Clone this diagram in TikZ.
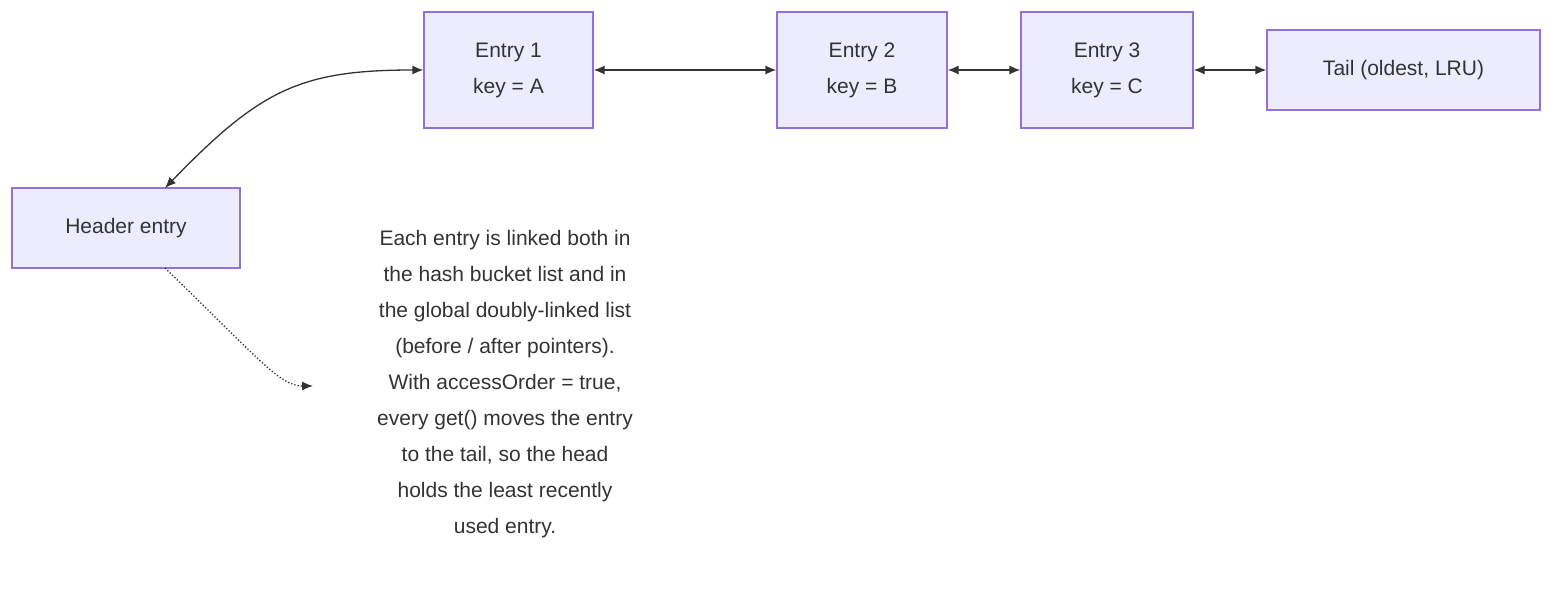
\documentclass[tikz,border=0pt]{standalone}
\usepackage{fontspec}
\setmainfont{Liberation Sans}
\usetikzlibrary{arrows.meta}
\definecolor{boxfill}{HTML}{ECECFF}
\definecolor{boxline}{HTML}{9370DB}
\definecolor{txt}{HTML}{333333}
\tikzset{
  entry/.style={draw=boxline, fill=boxfill, line width=1.3pt, text=txt, align=center,
    font=\fontsize{21}{36}\selectfont, inner sep=0pt},
  link/.style={draw=txt, line width=1.3pt, {Latex[length=11pt,width=9pt]}-{Latex[length=11pt,width=9pt]}}
}
\begin{document}
\begin{tikzpicture}[x=1pt, y=-1pt]
    \useasboundingbox (0,0) rectangle (1568,590);
    \node[entry, minimum width=169pt, minimum height=116pt] (E1) at (508.5,70) {Entry 1\\key = A};
    \node[entry, minimum width=170pt, minimum height=116pt] (E2) at (862,70) {Entry 2\\key = B};
    \node[entry, minimum width=172pt, minimum height=116pt] (E3) at (1107,70) {Entry 3\\key = C};
    \node[entry, minimum width=273pt, minimum height=80pt] (T) at (1403.5,70) {Tail (oldest, LRU)};
    \node[entry, minimum width=228pt, minimum height=80pt] (H) at (126,228) {Header entry};
    \node[text=txt, align=center, font=\fontsize{21}{36}\selectfont] (N) at (505,384)
        {Each entry is linked both in\\the hash bucket list and in\\the global doubly-linked list\\ (before / after pointers).\\With accessOrder = true,\\every get() moves the entry\\to the tail, so the head\\holds the least recently\\used entry.};
    \coordinate (Hs) at (165,188);
    \coordinate (Hd) at (165,268);
    \coordinate (Ne) at (313,386);

    \path[link] (E1) -- (E2);
    \path[link] (E2) -- (E3);
    \path[link] (E3) -- (T);
    \path[link] (E1.west) .. controls (300,70) and (260,90) .. (Hs);
    \draw[txt, line width=1.3pt, dotted, -{Latex[length=11pt,width=9pt]}]
        (Hd) .. controls (260,360) and (280,386) .. (Ne);
\end{tikzpicture}
\end{document}
